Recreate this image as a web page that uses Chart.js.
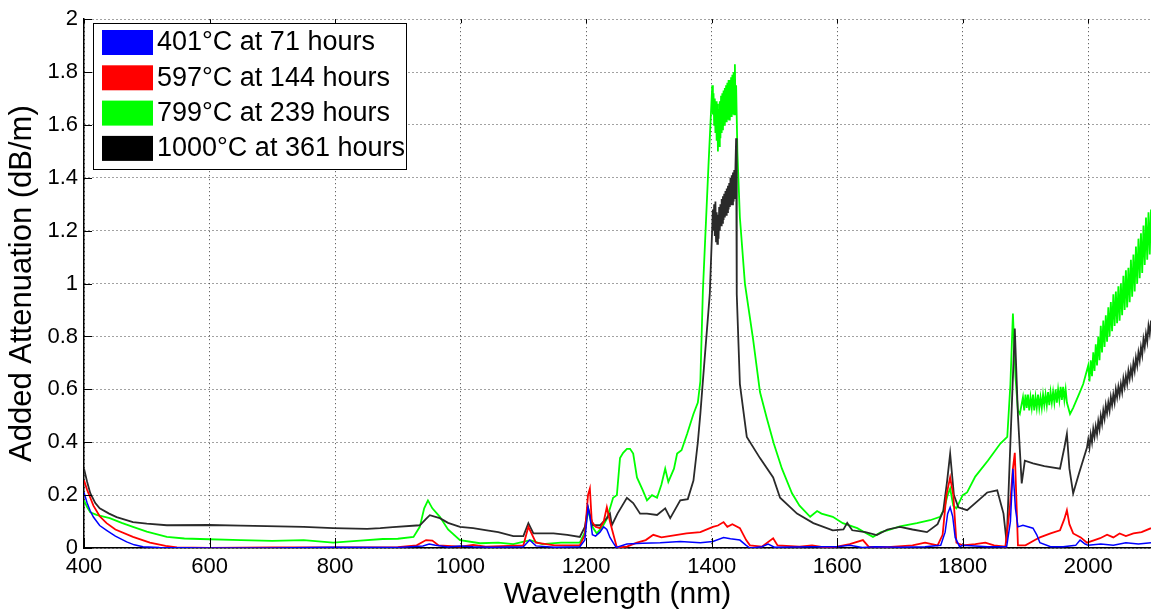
<!DOCTYPE html>
<html>
<head>
<meta charset="utf-8">
<script src="https://cdn.jsdelivr.net/npm/chart.js@4.4.0/dist/chart.umd.min.js"></script>
<style>
  html, body { margin: 0; padding: 0; background: #fff; }
  #wrap { width: 1151px; height: 613px; }
</style>
</head>
<body>
<div id="wrap"><canvas id="attChart" width="1151" height="613"></canvas></div>
<script>
// Wavelength axis ticks (nm) and attenuation ticks (dB/m)
const xTicks = [400, 600, 800, 1000, 1200, 1400, 1600, 1800, 2000];
const yTicks = [0, 0.2, 0.4, 0.6, 0.8, 1, 1.2, 1.4, 1.6, 1.8, 2];

const seriesLabels = ['401°C at 71 hours', '597°C at 144 hours', '799°C at 239 hours', '1000°C at 361 hours'];
const seriesColors = ['#0000ff', '#ff0000', '#00ff00', '#000000'];

// [wavelength nm, added attenuation dB/m]
const blue401 = [
  [400,0.21],[405,0.17],[410,0.14],[415,0.117],[425,0.085],[436,0.067],[450,0.045],[468,0.023],[480,0.012],[494,0.005],
  [520,0.002],[600,0],[700,0],[800,0.003],[900,0.002],[940,0.008],[950,0.015],[960,0.01],[980,0.004],[1000,0.008],
  [1020,0.005],[1050,0.003],[1100,0.005],[1110,0.03],[1120,0.008],[1150,0.003],[1190,0.005],[1198,0.03],[1203,0.154],[1206,0.12],
  [1210,0.05],[1215,0.045],[1222,0.06],[1228,0.08],[1233,0.07],[1238,0.04],[1243,0.02],[1248,0.002],[1265,0.015],[1290,0.018],
  [1318,0.02],[1350,0.025],[1382,0.02],[1402,0.025],[1419,0.04],[1430,0.035],[1445,0.03],[1455,0.01],[1461,0],[1480,0.005],
  [1490,0.015],[1500,0.003],[1560,0.005],[1600,0.005],[1620,0.01],[1640,0.002],[1660,0.005],[1700,0.003],[1740,0.005],[1765,0.01],
  [1772,0.06],[1776,0.13],[1780,0.154],[1784,0.12],[1788,0.04],[1795,0.005],[1800,0.01],[1840,0.005],[1870,0.005],[1876,0.1],
  [1880,0.3],[1884,0.15],[1888,0.08],[1896,0.086],[1912,0.075],[1918,0.05],[1923,0.02],[1940,0.005],[1960,0.005],[1980,0.01],
  [1987,0.03],[1995,0.015],[2000,0.01],[2020,0.015],[2040,0.01],[2060,0.02],[2080,0.015],[2100,0.02]
];

const red597 = [
  [400,0.256],[405,0.22],[410,0.19],[415,0.16],[425,0.12],[436,0.094],[450,0.07],[478,0.042],[505,0.02],[530,0.008],
  [548,0.002],[600,0],[700,0.002],[800,0.002],[900,0.003],[930,0.01],[945,0.03],[955,0.028],[965,0.01],[1000,0.005],
  [1020,0.012],[1040,0.005],[1100,0.01],[1108,0.08],[1112,0.06],[1120,0.02],[1150,0.01],[1190,0.01],[1198,0.05],[1203,0.2],
  [1206,0.225],[1209,0.1],[1215,0.08],[1222,0.075],[1228,0.1],[1233,0.154],[1238,0.1],[1243,0.055],[1249,0.002],[1265,0.005],
  [1281,0.02],[1295,0.03],[1307,0.05],[1320,0.04],[1345,0.05],[1360,0.055],[1382,0.06],[1402,0.08],[1410,0.085],[1419,0.098],
  [1425,0.08],[1433,0.09],[1445,0.075],[1455,0.03],[1461,0.01],[1480,0.005],[1498,0.037],[1505,0.01],[1540,0.005],[1560,0.01],
  [1580,0.002],[1600,0.005],[1620,0.015],[1641,0.03],[1650,0.005],[1680,0.003],[1720,0.01],[1740,0.02],[1760,0.01],[1768,0.05],
  [1774,0.2],[1780,0.267],[1785,0.2],[1790,0.02],[1800,0.01],[1820,0.015],[1836,0.02],[1850,0.01],[1868,0.005],[1875,0.15],
  [1880,0.3],[1883,0.36],[1886,0.15],[1888,0.01],[1900,0.01],[1915,0.03],[1923,0.04],[1940,0.055],[1955,0.067],[1962,0.11],
  [1966,0.143],[1970,0.09],[1976,0.055],[1988,0.04],[1998,0.02],[2010,0.03],[2019,0.037],[2030,0.05],[2040,0.04],[2050,0.055],
  [2060,0.045],[2072,0.055],[2085,0.06],[2100,0.075]
];

const green799 = [
  [400,0.18],[405,0.155],[410,0.135],[420,0.125],[441,0.113],[460,0.095],[478,0.08],[500,0.062],[532,0.042],[560,0.036],
  [585,0.034],[650,0.03],[700,0.027],[750,0.03],[797,0.02],[840,0.028],[876,0.034],[900,0.035],[925,0.042],[935,0.08],
  [942,0.15],[948,0.18],[955,0.15],[967,0.118],[980,0.07],[999,0.03],[1031,0.018],[1060,0.02],[1084,0.015],[1111,0.03],
  [1130,0.015],[1160,0.02],[1190,0.02],[1198,0.06],[1203,0.143],[1210,0.08],[1217,0.055],[1226,0.08],[1233,0.11],[1243,0.19],
  [1249,0.2],[1254,0.34],[1259,0.36],[1265,0.375],[1270,0.375],[1275,0.357],[1281,0.267],[1290,0.22],[1297,0.18],[1305,0.2],
  [1313,0.19],[1320,0.24],[1326,0.3],[1331,0.25],[1340,0.3],[1345,0.357],[1352,0.37],[1361,0.432],[1371,0.507],[1378,0.55],
  [1382,0.63],[1386,0.97],[1395,1.45],
  [1401,1.75],[1402,1.64],[1403,1.72],[1404,1.60],[1405,1.70],[1406,1.57],[1407,1.69],[1408,1.54],[1409,1.68],[1410,1.50],
  [1411,1.66],[1412,1.52],[1413,1.69],[1414,1.55],[1415,1.71],[1416,1.57],[1417,1.72],[1418,1.58],[1419,1.73],[1420,1.60],
  [1421,1.74],[1422,1.61],[1423,1.75],[1424,1.61],[1425,1.76],[1426,1.62],[1427,1.77],[1428,1.62],[1429,1.77],[1430,1.63],
  [1431,1.78],[1432,1.63],[1433,1.79],[1434,1.64],[1435,1.80],[1436,1.64],[1437,1.83],[1438,1.66],[1439,1.75],
  [1441,1.5],[1445,1.25],[1453,1.0],[1466,0.79],[1477,0.59],[1488,0.49],[1499,0.395],
  [1512,0.3],[1528,0.207],[1540,0.16],[1557,0.118],[1568,0.14],[1575,0.13],[1593,0.118],[1609,0.094],[1632,0.075],[1647,0.055],
  [1657,0.042],[1670,0.06],[1680,0.067],[1700,0.082],[1727,0.094],[1748,0.105],[1764,0.118],[1770,0.145],[1776,0.2],[1780,0.225],
  [1785,0.16],[1790,0.15],[1800,0.2],[1807,0.21],[1820,0.27],[1840,0.33],[1860,0.395],[1871,0.42],[1876,0.62],[1880,0.887],
  [1884,0.65],[1888,0.52],[1891,0.507],
  [1896,0.57],[1898,0.52],[1900,0.58],[1902,0.53],[1904,0.58],[1906,0.52],[1908,0.57],[1910,0.53],[1912,0.58],[1914,0.52],
  [1916,0.57],[1918,0.53],[1920,0.58],[1922,0.53],[1924,0.57],[1926,0.53],[1928,0.58],[1930,0.54],[1932,0.58],[1934,0.54],
  [1936,0.59],[1938,0.54],[1940,0.59],[1942,0.55],[1944,0.59],[1946,0.55],[1948,0.60],[1950,0.55],[1952,0.60],[1954,0.56],
  [1956,0.61],[1958,0.56],[1960,0.61],[1962,0.56],[1964,0.60],[1966,0.55],
  [1971,0.507],[1976,0.53],[1985,0.58],[1992,0.62],
  [2000,0.69],[2002,0.63],[2004,0.71],[2006,0.65],[2008,0.74],[2010,0.67],[2012,0.77],[2014,0.69],[2016,0.80],[2018,0.71],
  [2020,0.84],[2022,0.74],[2024,0.86],[2026,0.76],[2028,0.88],[2030,0.78],[2032,0.91],[2034,0.80],[2036,0.93],[2038,0.82],
  [2040,0.96],[2042,0.84],[2044,0.97],[2046,0.85],[2048,0.99],[2050,0.86],[2052,1.00],[2054,0.88],[2056,1.03],[2058,0.90],
  [2060,1.05],[2062,0.91],[2064,1.06],[2066,0.93],[2068,1.09],[2070,0.95],[2072,1.11],[2074,0.97],[2076,1.14],[2078,1.00],
  [2080,1.17],[2082,1.02],[2084,1.19],[2086,1.04],[2088,1.22],[2090,1.07],[2092,1.25],[2094,1.09],[2096,1.27],[2098,1.11],
  [2100,1.28]
];

const black1000 = [
  [400,0.30],[405,0.25],[410,0.207],[418,0.17],[425,0.15],[440,0.13],[452,0.117],[478,0.098],[500,0.092],[532,0.086],
  [600,0.087],[650,0.085],[691,0.083],[750,0.08],[797,0.075],[851,0.072],[872,0.075],[892,0.079],[935,0.086],[945,0.11],
  [951,0.124],[960,0.118],[967,0.113],[980,0.095],[999,0.08],[1020,0.075],[1042,0.067],[1060,0.06],[1084,0.045],[1100,0.045],
  [1108,0.094],[1116,0.055],[1148,0.055],[1170,0.05],[1190,0.042],[1198,0.08],[1203,0.154],[1208,0.11],[1211,0.086],[1222,0.086],
  [1233,0.113],[1238,0.13],[1241,0.086],[1250,0.13],[1265,0.19],[1275,0.17],[1286,0.13],[1297,0.13],[1313,0.125],[1326,0.15],
  [1334,0.113],[1350,0.18],[1362,0.185],[1371,0.255],[1378,0.4],[1382,0.507],[1386,0.63],[1397,0.96],
  [1402,1.28],[1403,1.20],[1404,1.30],[1405,1.18],[1406,1.31],[1407,1.16],[1408,1.27],[1409,1.15],[1410,1.26],[1411,1.17],
  [1412,1.29],[1413,1.20],[1414,1.30],[1415,1.22],[1416,1.32],[1417,1.23],[1418,1.33],[1419,1.24],[1420,1.34],[1421,1.25],
  [1422,1.35],[1423,1.26],[1424,1.36],[1425,1.27],[1426,1.37],[1427,1.28],[1428,1.38],[1429,1.29],[1430,1.40],[1431,1.30],
  [1432,1.41],[1433,1.30],[1434,1.42],[1435,1.31],[1436,1.43],[1437,1.32],[1438,1.45],[1439,1.55],
  [1440,0.96],[1445,0.62],
  [1456,0.42],[1477,0.34],[1498,0.267],[1509,0.19],[1536,0.13],[1562,0.094],[1593,0.067],[1610,0.07],[1616,0.095],[1624,0.067],
  [1645,0.06],[1663,0.049],[1680,0.07],[1700,0.08],[1720,0.07],[1743,0.06],[1760,0.09],[1769,0.14],[1775,0.25],[1780,0.357],
  [1786,0.2],[1793,0.154],[1807,0.143],[1825,0.18],[1839,0.21],[1855,0.218],[1865,0.13],[1870,0.02],[1876,0.4],[1883,0.83],
  [1888,0.5],[1894,0.244],[1899,0.33],[1912,0.32],[1930,0.31],[1955,0.3],[1962,0.38],[1966,0.432],[1970,0.3],[1976,0.207],
  [1985,0.28],[1998,0.38],
  [2000,0.41],[2002,0.38],[2004,0.43],[2006,0.40],[2008,0.45],[2010,0.42],[2012,0.46],[2014,0.43],[2016,0.48],[2018,0.45],
  [2020,0.50],[2022,0.47],[2024,0.52],[2026,0.49],[2028,0.54],[2030,0.51],[2032,0.55],[2034,0.52],[2036,0.57],[2038,0.54],
  [2040,0.58],[2042,0.55],[2044,0.60],[2046,0.57],[2048,0.61],[2050,0.58],[2052,0.62],[2054,0.59],[2056,0.64],[2058,0.61],
  [2060,0.65],[2062,0.62],[2064,0.67],[2066,0.64],[2068,0.68],[2070,0.65],[2072,0.70],[2074,0.67],[2076,0.72],[2078,0.69],
  [2080,0.74],[2082,0.71],[2084,0.76],[2086,0.73],[2088,0.79],[2090,0.76],[2092,0.81],[2094,0.78],[2096,0.84],[2098,0.81],
  [2100,0.86]
];

const FONT = '"Liberation Sans", Arial, sans-serif';

const toPoints = arr => arr.map(p => ({ x: p[0], y: p[1] }));

// MATLAB style inward tick marks
const innerTicks = {
  id: 'innerTicks',
  afterDatasetsDraw(chart) {
    const { ctx, chartArea, scales } = chart;
    ctx.save();
    ctx.strokeStyle = '#000';
    ctx.lineWidth = 1;
    ctx.beginPath();
    xTicks.forEach(v => {
      const px = Math.round(scales.x.getPixelForValue(v)) + 0.5;
      ctx.moveTo(px, chartArea.bottom);
      ctx.lineTo(px, chartArea.bottom - 10);
      ctx.moveTo(px, chartArea.top);
      ctx.lineTo(px, chartArea.top + 4);
    });
    yTicks.forEach(v => {
      const py = Math.round(scales.y.getPixelForValue(v)) + 0.5;
      ctx.moveTo(chartArea.left, py);
      ctx.lineTo(chartArea.left + 8, py);
    });
    ctx.stroke();
    ctx.restore();
  }
};

// legend box drawn inside the plot, top-left
const boxLegend = {
  id: 'boxLegend',
  afterDraw(chart) {
    const ctx = chart.ctx;
    const bx = 93, by = 23, bw = 313, bh = 146;
    ctx.save();
    ctx.fillStyle = '#fff';
    ctx.fillRect(bx, by, bw, bh);
    ctx.strokeStyle = '#000';
    ctx.lineWidth = 1;
    ctx.strokeRect(bx + 0.5, by + 0.5, bw, bh);
    ctx.font = '27px ' + FONT;
    ctx.textBaseline = 'middle';
    chart.data.datasets.forEach((ds, i) => {
      const y = 30 + i * 35.3;
      ctx.fillStyle = seriesColors[i];
      ctx.fillRect(102, y, 51, 25);
      ctx.fillStyle = '#000';
      ctx.fillText(ds.label, 157, y + 13);
    });
    ctx.restore();
  }
};

const datasets = [blue401, red597, green799, black1000].map((arr, i) => ({
  label: seriesLabels[i],
  data: toPoints(arr),
  borderColor: i === 3 ? '#2a2a2a' : seriesColors[i],
  borderWidth: i === 0 ? 1.5 : 1.8,
  pointRadius: 0,
  tension: 0,
  fill: false
}));
// draw order like the original: green under black, blue/red on top
datasets.forEach((d, i) => { d.order = [1, 2, 4, 3][i]; });

new Chart(document.getElementById('attChart'), {
  type: 'line',
  data: { datasets: datasets },
  options: {
    responsive: false,
    animation: false,
    layout: { padding: { top: 16, right: 0, left: 0, bottom: 0 } },
    plugins: { legend: { display: false }, tooltip: { enabled: false } },
    scales: {
      x: {
        type: 'linear',
        min: 400,
        max: 2100,
        afterBuildTicks: s => { s.ticks = xTicks.map(v => ({ value: v })); },
        afterFit: s => { s.height = 65; },
        ticks: { font: { size: 22, family: FONT }, color: '#000', padding: 6, maxRotation: 0, callback: v => String(v) },
        grid: { color: '#444', drawTicks: false, lineWidth: 1 },
        border: { color: '#000', width: 1.5, dash: [1, 3] },
        title: { display: true, text: 'Wavelength (nm)', font: { size: 30, family: FONT }, color: '#000', padding: { top: 0, bottom: 0 } }
      },
      y: {
        min: 0,
        max: 2,
        afterBuildTicks: s => { s.ticks = yTicks.map(v => ({ value: v })); },
        afterFit: s => { s.width = 84; },
        ticks: { font: { size: 22, family: FONT }, color: '#000', padding: 6, callback: v => String(v) },
        grid: { color: '#444', drawTicks: false, lineWidth: 1 },
        border: { color: '#000', width: 1.5, dash: [1, 3] },
        title: { display: true, text: 'Added Attenuation (dB/m)', font: { size: 31, family: FONT }, color: '#000', padding: { top: 4, bottom: 0 } }
      }
    }
  },
  plugins: [innerTicks, boxLegend]
});
</script>
</body>
</html>
